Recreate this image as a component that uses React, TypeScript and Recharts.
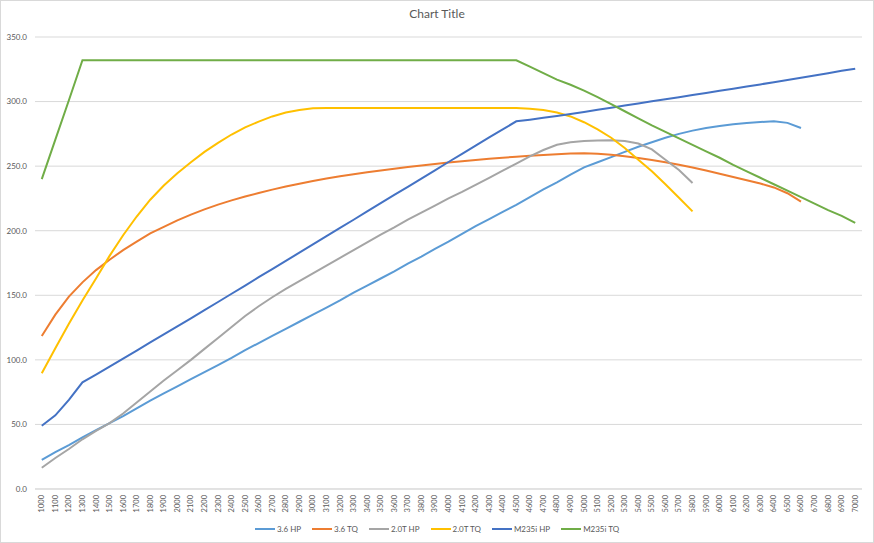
import React from 'react';
import { LineChart, Line, XAxis, YAxis, CartesianGrid, Legend } from 'recharts';

const rpm: string[] = [
  '1000','1100','1200','1300','1400','1500','1600','1700','1800','1900',
  '2000','2100','2200','2300','2400','2500','2600','2700','2800','2900',
  '3000','3100','3200','3300','3400','3500','3600','3700','3800','3900',
  '4000','4100','4200','4300','4400','4500','4600','4700','4800','4900',
  '5000','5100','5200','5300','5400','5500','5600','5700','5800','5900',
  '6000','6100','6200','6300','6400','6500','6600','6700','6800','6900','7000',
];

const hp36: (number | null)[] = [
  22.5, 28.5, 34, 40, 45.5, 51, 56.5, 62.5, 68.5, 74,
  79.5, 85, 90.5, 96, 101.5, 107.5, 113, 118.5, 124, 129.5,
  135, 140.5, 146, 152, 157.5, 163, 168.5, 174.5, 180, 186,
  191.5, 197.5, 203.5, 209, 214.5, 220, 226, 232, 237.5, 243.5,
  249, 253, 257, 261, 265, 268.5, 272, 275, 277.5, 279.5,
  281, 282.5, 283.5, 284.2, 284.7, 283.5, 279.5, null, null, null, null,
];

const tq36: (number | null)[] = [
  118.5, 135, 149, 160, 169.5, 177.5, 185, 191.5, 198, 203,
  208, 212.5, 216.5, 220.2, 223.5, 226.5, 229.2, 231.8, 234.2, 236.4,
  238.5, 240.4, 242.2, 243.8, 245.3, 246.7, 248, 249.3, 250.5, 251.7,
  252.8, 253.8, 254.8, 255.7, 256.5, 257.3, 258, 258.7, 259.3, 259.8,
  260, 259.6, 258.8, 257.7, 256.3, 254.7, 253, 251, 249, 246.6,
  244.1, 241.6, 239.1, 236.5, 233.5, 229, 222.5, null, null, null, null,
];

const hp20: (number | null)[] = [
  16.5, 24, 31, 38.5, 45, 51, 58.5, 67, 75.5, 84,
  92, 100, 108.5, 117, 125.5, 134, 141.5, 148.5, 155, 161,
  167, 173, 179, 185, 191, 197, 202.5, 208.5, 214, 219.5,
  225, 230, 235.5, 241, 246.5, 252, 257.5, 262.5, 266.5, 268.5,
  269.5, 269.8, 270, 269.5, 267.5, 263, 255, 247, 237, null,
  null, null, null, null, null, null, null, null, null, null, null,
];

const tq20: (number | null)[] = [
  89.6, 109, 128, 146, 163, 180.5, 196.5, 211, 224, 235,
  244.5, 253, 261, 268, 274.5, 280, 284.5, 288.5, 291.5, 293.5,
  294.8, 295, 295, 295, 295, 295, 295, 295, 295, 295,
  295, 295, 295, 295, 295, 295, 294.5, 293.5, 291.5, 288.5,
  284, 278.5, 272, 264, 255, 246, 236, 225.5, 215, null,
  null, null, null, null, null, null, null, null, null, null, null,
];

const hpM: number[] = [
  49, 57, 69, 82.6, 88.5, 94.7, 101, 107.2, 113.5, 119.7,
  126, 132.2, 138.5, 144.8, 151.2, 157.5, 164, 170.3, 176.7, 183,
  189.4, 195.8, 202.2, 208.5, 215, 221.3, 227.7, 234, 240.4, 246.8,
  253.2, 259.5, 265.9, 272.3, 278.5, 284.7, 286, 287.4, 288.8, 290.4,
  292, 293.6, 295.2, 296.9, 298.5, 300.2, 301.8, 303.4, 305.1, 306.7,
  308.4, 310, 311.7, 313.3, 315, 316.7, 318.4, 320.2, 322, 323.8, 325.5,
];

const tqM: number[] = [
  240, 270.5, 301, 332, 332, 332, 332, 332, 332, 332,
  332, 332, 332, 332, 332, 332, 332, 332, 332, 332,
  332, 332, 332, 332, 332, 332, 332, 332, 332, 332,
  332, 332, 332, 332, 332, 332, 327, 322, 317, 313,
  308.5, 303.5, 298, 292.5, 287, 281.5, 276.5, 271.5, 266.5, 261.5,
  256.5, 251, 246, 241, 236, 231, 226, 221, 216, 211.5, 206,
];

const yTicks: number[] = [0, 50, 100, 150, 200, 250, 300, 350];

const seriesNames: string[] = ['3.6 HP', '3.6 TQ', '2.0T HP', '2.0T TQ', 'M235i HP', 'M235i TQ'];
const seriesKeys: string[] = ['hp36', 'tq36', 'hp20', 'tq20', 'hpM', 'tqM'];
const seriesColors: string[] = ['#5B9BD5', '#ED7D31', '#A5A5A5', '#FFC000', '#4472C4', '#70AD47'];

const data = rpm.map((r, i) => ({
  rpm: r,
  hp36: hp36[i],
  tq36: tq36[i],
  hp20: hp20[i],
  tq20: tq20[i],
  hpM: hpM[i],
  tqM: tqM[i],
}));

const FONT = 'Lato, "Open Sans", sans-serif';
const TEXT = '#595959';

const XTick = (props: any) => {
  const { x, y, payload } = props;
  return (
    <text
      x={x}
      y={y}
      transform={`rotate(-90 ${x} ${y})`}
      textAnchor="end"
      dominantBaseline="central"
      fontSize={7.5}
      fill={TEXT}
      fontFamily={FONT}
    >
      {payload.value}
    </text>
  );
};

const LegendContent = () => (
  <div
    style={{
      display: 'flex',
      justifyContent: 'center',
      alignItems: 'center',
      gap: 11,
      height: 20,
      fontFamily: FONT,
      fontSize: 8,
      color: TEXT,
    }}
  >
    {seriesNames.map((n, i) => (
      <div key={n} style={{ display: 'flex', alignItems: 'center' }}>
        <svg width={20} height={4} style={{ display: 'block' }}>
          <line x1={0} y1={2} x2={20} y2={2} stroke={seriesColors[i]} strokeWidth={2} />
        </svg>
        <span style={{ marginLeft: 2, whiteSpace: 'nowrap' }}>{n}</span>
      </div>
    ))}
  </div>
);

export default function App() {
  return (
    <div style={{ position: 'relative', width: 874, height: 543, background: '#fff' }}>
      <style>{`body{margin:0}`}</style>
      <div
        style={{
          position: 'absolute',
          top: 6,
          left: 0,
          width: 874,
          textAlign: 'center',
          fontFamily: FONT,
          fontSize: 12,
          lineHeight: '16px',
          color: TEXT,
        }}
      >
        Chart Title
      </div>
      <LineChart
        width={874}
        height={543}
        data={data}
        margin={{ top: 37, right: 12, left: 0, bottom: 4 }}
      >
        <CartesianGrid vertical={false} stroke="#d9d9d9" strokeWidth={1} />
        <XAxis
          dataKey="rpm"
          scale="band"
          interval={0}
          height={30}
          tickSize={4}
          tickLine={false}
          axisLine={{ stroke: '#d9d9d9' }}
          tick={<XTick />}
        />
        <YAxis
          width={35}
          domain={[0, 350]}
          ticks={yTicks}
          tickFormatter={(v: number) => v.toFixed(1)}
          axisLine={false}
          tickLine={false}
          tick={{ fontSize: 8, fill: TEXT, fontFamily: FONT }}
        />
        <Legend
          verticalAlign="bottom"
          height={20}
          wrapperStyle={{ left: 0, width: 874, height: 20 }}
          content={<LegendContent />}
        />
        {seriesKeys.map((k, i) => (
          <Line
            key={k}
            type="linear"
            dataKey={k}
            name={seriesNames[i]}
            stroke={seriesColors[i]}
            strokeWidth={2}
            dot={false}
            activeDot={false}
            isAnimationActive={false}
          />
        ))}
      </LineChart>
      <div
        style={{
          position: 'absolute',
          inset: 0,
          border: '1px solid #d9d9d9',
          boxSizing: 'border-box',
          pointerEvents: 'none',
        }}
      />
    </div>
  );
}
